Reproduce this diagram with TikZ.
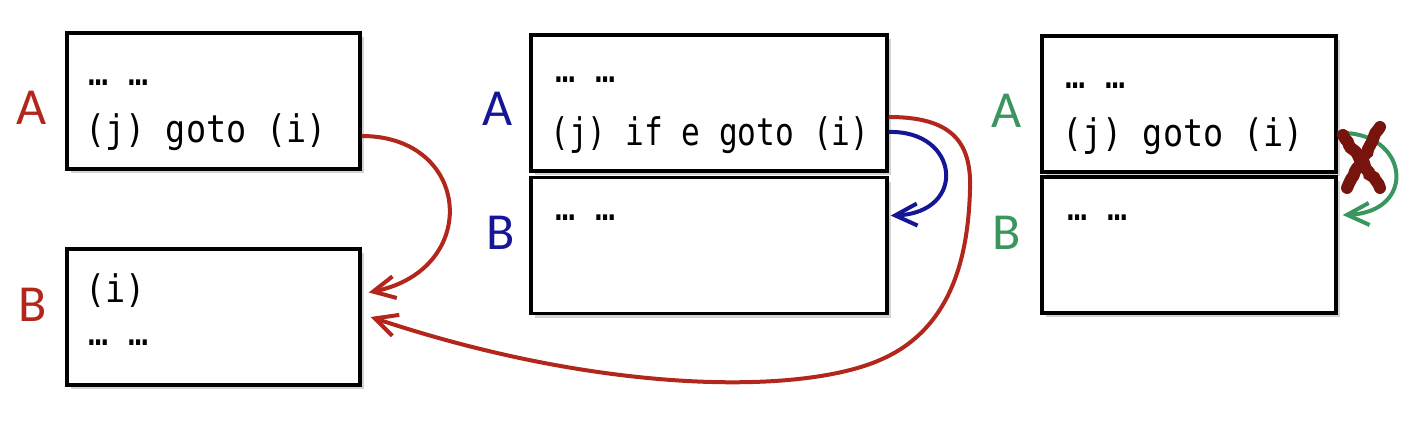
\documentclass[tikz,border=0pt]{standalone}
\usepackage{fontspec}
\setmainfont{Carlito}
\newfontfamily\codefont[FakeStretch=0.88]{DejaVu Sans Mono}
\newfontfamily\codefontn[FakeStretch=0.82]{DejaVu Sans Mono}
\usetikzlibrary{positioning,shadows,arrows.meta,decorations.pathmorphing}
\definecolor{jred}{RGB}{178,38,28}
\definecolor{jblue}{RGB}{20,22,150}
\definecolor{jgreen}{RGB}{58,150,95}
\definecolor{xred}{RGB}{120,20,14}

\begin{document}
\begin{tikzpicture}[x=0.5pt, y=-0.5pt, node distance=2pt,
    block/.style = {draw, line width=1.7pt, fill=white, minimum height=68pt,
        drop shadow={shadow xshift=2pt, shadow yshift=-2pt, opacity=0.35}},
    code/.style = {anchor=base west, inner sep=0pt, font=\codefont\fontsize{19}{22}\selectfont},
    lab/.style = {inner sep=0pt, font=\fontsize{26}{30}\selectfont},
    jump/.style = {-{Straight Barb[length=11pt,width=11pt]}, line width=2pt},
    cross/.style = {draw=xred, line width=6pt, line cap=round,
        decorate, decoration={random steps, segment length=2pt, amplitude=0.7pt}}]
    \useasboundingbox (0,0) rectangle (1420,421);
    % left: goto
    \node[block, minimum width=146.5pt] (lA) at (213.5,101) {};
    \node[block, minimum width=146.5pt, below=38.3pt of lA] (lB) {};
    \node[code] (lAdots) at (88,86) {… …};
    \node[code] (lAline) at (85,143) {(j) goto (i)};
    \node[code] (lBi) at (85,303) {(i)};
    \node[code] (lBdots) at (88,346) {… …};
    \node[lab, text=jred] (lAlab) at (32,108) {A};
    \node[lab, text=jred] (lBlab) at (33,305) {B};
    % middle: if e goto
    \node[block, minimum width=178pt] (mA) at (709,103) {};
    \node[block, minimum width=178pt, below=1.6pt of mA] (mB) {};
    \node[code] (mAdots) at (555,83) {… …};
    \node[code, font=\codefontn\fontsize{19}{22}\selectfont] (mAline) at (550,146) {(j) if e goto (i)};
    \node[code] (mBdots) at (555,221) {… …};
    \node[lab, text=jblue] (mAlab) at (498,109) {A};
    \node[lab, text=jblue] (mBlab) at (501,233) {B};
    % right: goto that falls through
    \node[block, minimum width=147pt] (rA) at (1189,104) {};
    \node[block, minimum width=147pt, below=0.8pt of rA] (rB) {};
    \node[code] (rAdots) at (1065,89) {… …};
    \node[code] (rAline) at (1062,147) {(j) goto (i)};
    \node[code] (rBdots) at (1067,221) {… …};
    \node[lab, text=jgreen] (rAlab) at (1007,111) {A};
    \node[lab, text=jgreen] (rBlab) at (1007,233) {B};
    % ends of the jumps
    \coordinate (lAout) at ([yshift=-17.5pt]lA.east);
    \coordinate (lBin) at ([xshift=3.5pt,yshift=12.25pt]lB.east);
    \coordinate (lBin2) at ([xshift=4.5pt]lB.east);
    \coordinate (mAout) at ([yshift=-7pt]mA.east);
    \coordinate (mAout2) at ([yshift=-14.5pt]mA.east);
    \coordinate (mBin) at ([xshift=1pt,yshift=15pt]mB.east);
    \coordinate (rAout) at ([yshift=-14.5pt]rA.east);
    \coordinate (rBin) at ([xshift=2.5pt,yshift=15pt]rB.east);
    \coordinate (bend1) at (970,190);
    \coordinate (bend2) at (880,360);
    \coordinate (rX) at (1362,158);
    \draw[jump, jred] (lAout) .. controls +(110,0) and +(113,-23) .. (lBin);
    \draw[jump, jred] (mAout) .. controls +(61,0) and +(2,-50) .. (bend1)
        .. controls +(-2,70) and +(70,-30) .. (bend2)
        .. controls +(-80,35) and +(231,77) .. (lBin2);
    \draw[jump, jblue] (mAout2) .. controls +(71,-2) and +(77,-3) .. (mBin);
    \draw[jump, jgreen] (rAout) .. controls +(71,-3) and +(76,-3) .. (rBin);
    \draw[cross] ([shift={(-19,-23)}]rX) -- ([shift={(18,30)}]rX);
    \draw[cross] ([shift={(18,-31)}]rX) -- ([shift={(-15,30)}]rX);
\end{tikzpicture}
\end{document}
